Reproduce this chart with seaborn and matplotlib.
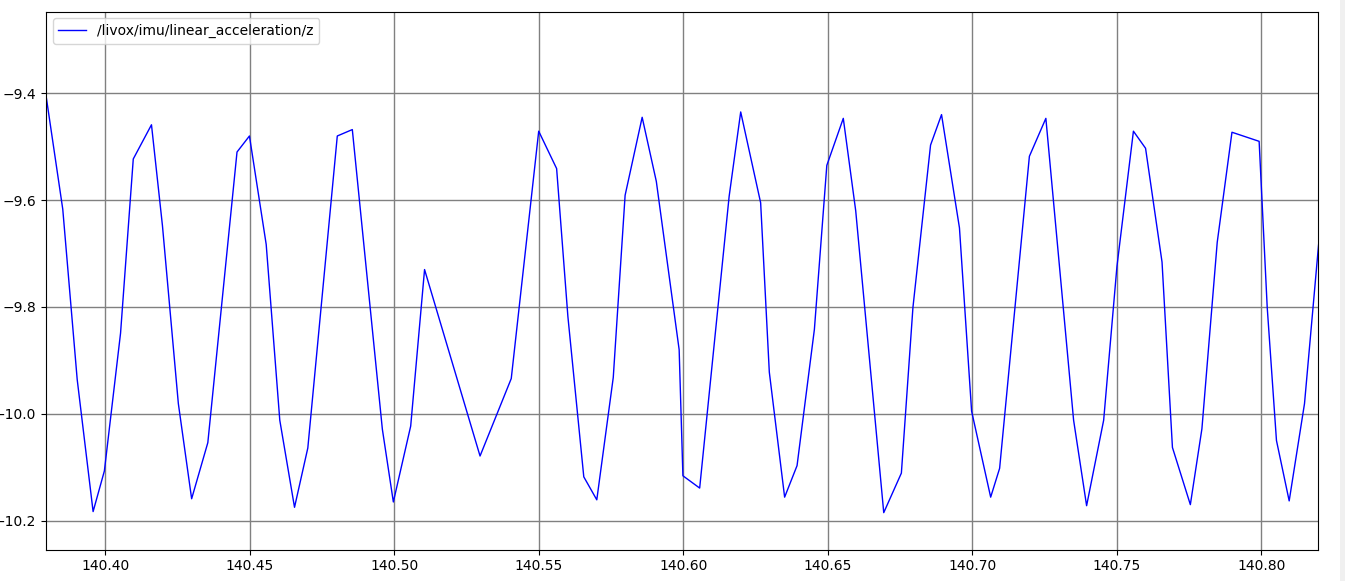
import numpy as np
import pandas as pd
import matplotlib
matplotlib.use("Agg")
import matplotlib.pyplot as plt
import seaborn as sns
from matplotlib.patches import Rectangle

# time stamps (s) and z acceleration
t = [140.3795, 140.3853, 140.3903, 140.3958, 140.3997, 140.4053, 140.4097, 140.4160,
     140.4198, 140.4253, 140.4299, 140.4355, 140.4456, 140.4499, 140.4557, 140.4604,
     140.4655, 140.4701, 140.4803, 140.4855, 140.4959, 140.4997, 140.5057, 140.5105,
     140.5297, 140.5405, 140.5500, 140.5562, 140.5601, 140.5656, 140.5701, 140.5758,
     140.5799, 140.5858, 140.5907, 140.5986, 140.5999, 140.6057, 140.6159, 140.6199,
     140.6268, 140.6298, 140.6351, 140.6394, 140.6454, 140.6497, 140.6554, 140.6597,
     140.6694, 140.6755, 140.6795, 140.6856, 140.6894, 140.6956, 140.6998, 140.7064,
     140.7095, 140.7198, 140.7255, 140.7351, 140.7396, 140.7455, 140.7501, 140.7558,
     140.7600, 140.7657, 140.7693, 140.7755, 140.7795, 140.7848, 140.7899, 140.7993,
     140.8021, 140.8053, 140.8097, 140.8150, 140.8200]
acc_z = [-9.404, -9.617, -9.936, -10.183, -10.107, -9.849, -9.523, -9.459,
         -9.648, -9.981, -10.159, -10.054, -9.510, -9.480, -9.683, -10.012,
         -10.175, -10.064, -9.480, -9.468, -10.029, -10.165, -10.023, -9.730,
         -10.079, -9.934, -9.471, -9.541, -9.818, -10.118, -10.161, -9.932,
         -9.591, -9.445, -9.565, -9.880, -10.116, -10.139, -9.593, -9.435,
         -9.605, -9.922, -10.156, -10.097, -9.842, -9.535, -9.447, -9.620,
         -10.185, -10.111, -9.801, -9.497, -9.440, -9.652, -9.995, -10.156,
         -10.102, -9.518, -9.447, -10.012, -10.172, -10.012, -9.724, -9.471,
         -9.503, -9.716, -10.063, -10.170, -10.028, -9.679, -9.473, -9.490,
         -9.801, -10.050, -10.163, -9.981, -9.676]
topic = "/livox/imu/linear_acceleration/z"

df = pd.DataFrame({"t": t, "z": acc_z})

fig = plt.figure(figsize=(13.45, 5.81), dpi=100)
ax = fig.add_axes([0.0342, 0.0542, 0.9460, 0.9260])

sns.lineplot(data=df, x="t", y="z", ax=ax, color="blue", linewidth=1,
             sort=False, estimator=None, label=topic)

ax.set_xlim(140.3795, 140.8198)
ax.set_ylim(-10.254, -9.247)
ax.set_xticks(np.arange(140.40, 140.81, 0.05))
ax.set_yticks([-10.2, -10.0, -9.8, -9.6, -9.4])
ax.grid(True, color="gray", linewidth=1)
ax.set_axisbelow(True)
ax.set_xlabel("")
ax.set_ylabel("")
ax.legend(loc="upper left")

# grey strip at the right edge of the window
fig.patches.append(Rectangle((1340 / 1345, 0), 5 / 1345, 1, transform=fig.transFigure,
                             facecolor="#f0f0f0", edgecolor="none"))

fig.savefig("out.png", dpi=100)
